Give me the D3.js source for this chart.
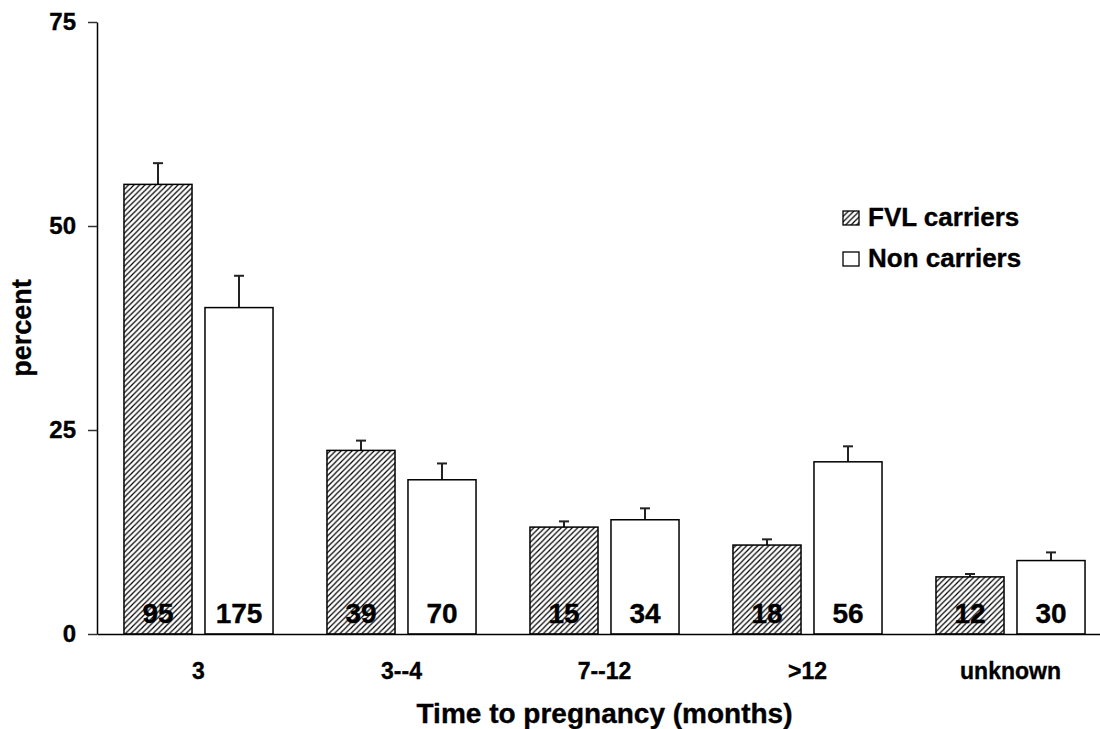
<!DOCTYPE html>
<html>
<head>
<meta charset="utf-8">
<script src="https://cdn.jsdelivr.net/npm/d3@7"></script>
<style>
  body { margin: 0; background: #fff; }
  text { font-family: "Liberation Sans", Arial, sans-serif; font-weight: bold; fill: #000; stroke: #000; stroke-width: 0.35px; }
</style>
</head>
<body>
<div id="chart"></div>
<script>
const categories = ["3", "3--4", "7--12", ">12", "unknown"];
const seriesNames = ["FVL carriers", "Non carriers"];
const fvlValues = [55.1, 22.5, 13.1, 10.9, 7.0];
const fvlErrors = [2.6, 1.2, 0.7, 0.7, 0.35];
const nonValues = [40.0, 18.9, 14.0, 21.1, 9.0];
const nonErrors = [3.9, 2.0, 1.4, 1.9, 1.0];
const fvlCounts = [95, 39, 15, 18, 12];
const nonCounts = [175, 70, 34, 56, 30];
const yTicks = [0, 25, 50, 75];

const width = 1100;
const height = 729;
const margin = { top: 22, left: 97, bottom: 95 };
const plotBottom = height - margin.bottom;

const svg = d3.select("#chart")
  .append("svg")
  .attr("width", width)
  .attr("height", height);

// hatch pattern for the carriers
const defs = svg.append("defs");
const pat = defs.append("pattern")
  .attr("id", "hatch")
  .attr("patternUnits", "userSpaceOnUse")
  .attr("width", 5.5)
  .attr("height", 5.5);
pat.append("rect").attr("width", 5.5).attr("height", 5.5).attr("fill", "#fff");
pat.append("path")
  .attr("d", "M0,5.5 L5.5,0 M-1.4,1.4 L1.4,-1.4 M4.1,6.9 L6.9,4.1")
  .attr("stroke", "#000")
  .attr("stroke-width", 1.2);

const x = d3.scaleBand()
  .domain(categories)
  .range([margin.left, margin.left + 5 * 203])
  .padding(0);

const xInner = d3.scaleBand()
  .domain(seriesNames)
  .range([0, x.bandwidth()])
  .paddingInner(0.16)
  .paddingOuter(0.333);

const y = d3.scaleLinear().domain([0, 75]).range([plotBottom, margin.top]);

const rows = categories.map((c, i) => [
  { cat: c, s: seriesNames[0], v: fvlValues[i], e: fvlErrors[i], n: fvlCounts[i] },
  { cat: c, s: seriesNames[1], v: nonValues[i], e: nonErrors[i], n: nonCounts[i] }
]).flat();

// error bars (drawn under the bars)
const err = svg.append("g").attr("stroke", "#222").attr("stroke-width", 2);
rows.forEach((d) => {
  const cx = x(d.cat) + xInner(d.s) + xInner.bandwidth() / 2;
  err.append("line")
    .attr("x1", cx).attr("x2", cx)
    .attr("y1", y(d.v)).attr("y2", y(d.v + d.e));
  err.append("line")
    .attr("x1", cx - 5).attr("x2", cx + 5)
    .attr("y1", y(d.v + d.e)).attr("y2", y(d.v + d.e));
});

svg.append("g")
  .selectAll("rect")
  .data(rows)
  .join("rect")
  .attr("x", (d) => x(d.cat) + xInner(d.s))
  .attr("y", (d) => y(d.v))
  .attr("width", xInner.bandwidth())
  .attr("height", (d) => y(0) - y(d.v))
  .attr("fill", (d) => (d.s === seriesNames[0] ? "url(#hatch)" : "#fff"))
  .attr("stroke", "#000")
  .attr("stroke-width", 1.5);

// counts inside the bars
svg.append("g")
  .selectAll("text")
  .data(rows)
  .join("text")
  .attr("x", (d) => x(d.cat) + xInner(d.s) + xInner.bandwidth() / 2)
  .attr("y", y(0) - 11)
  .attr("text-anchor", "middle")
  .style("font-size", "28px")
  .text((d) => d.n);

// y axis
const yAxis = svg.append("g")
  .attr("transform", `translate(${margin.left},0)`)
  .call(d3.axisLeft(y).tickValues(yTicks).tickSize(9).tickPadding(12).tickSizeOuter(0));
yAxis.select(".domain").attr("stroke", "#000").attr("stroke-width", 1.5);
yAxis.selectAll(".tick line").attr("stroke", "#333").attr("stroke-width", 1.5);
yAxis.selectAll(".tick text")
  .style("font-size", "24px")
  .style("font-family", "'Liberation Sans', Arial, sans-serif")
  .style("font-weight", "bold")
  .attr("fill", "#000");

// x axis
const xAxis = svg.append("g")
  .attr("transform", `translate(0,${plotBottom})`)
  .call(d3.axisBottom(x).tickSize(0).tickPadding(29).tickSizeOuter(0));
xAxis.select(".domain").attr("stroke", "#000").attr("stroke-width", 1.5);
xAxis.selectAll(".tick text")
  .style("font-size", "23px")
  .style("font-family", "'Liberation Sans', Arial, sans-serif")
  .style("font-weight", "bold")
  .attr("fill", "#000");

// axis titles
svg.append("text")
  .attr("x", (x.range()[0] + x.range()[1]) / 2)
  .attr("y", 723)
  .attr("text-anchor", "middle")
  .style("font-size", "28px")
  .text("Time to pregnancy (months)");

svg.append("text")
  .attr("transform", `translate(31,${(y(0) + y(75)) / 2}) rotate(-90)`)
  .attr("text-anchor", "middle")
  .style("font-size", "27px")
  .text("percent");

// legend
const legend = svg.append("g").attr("transform", "translate(843,211)");
seriesNames.forEach((name, i) => {
  const g = legend.append("g").attr("transform", `translate(0,${i * 41})`);
  g.append("rect")
    .attr("width", 16).attr("height", 14)
    .attr("fill", i === 0 ? "url(#hatch)" : "#fff")
    .attr("stroke", "#000").attr("stroke-width", 1.3);
  g.append("text")
    .attr("x", 25).attr("y", 15)
    .style("font-size", "26px")
    .text(name);
});
</script>
</body>
</html>
